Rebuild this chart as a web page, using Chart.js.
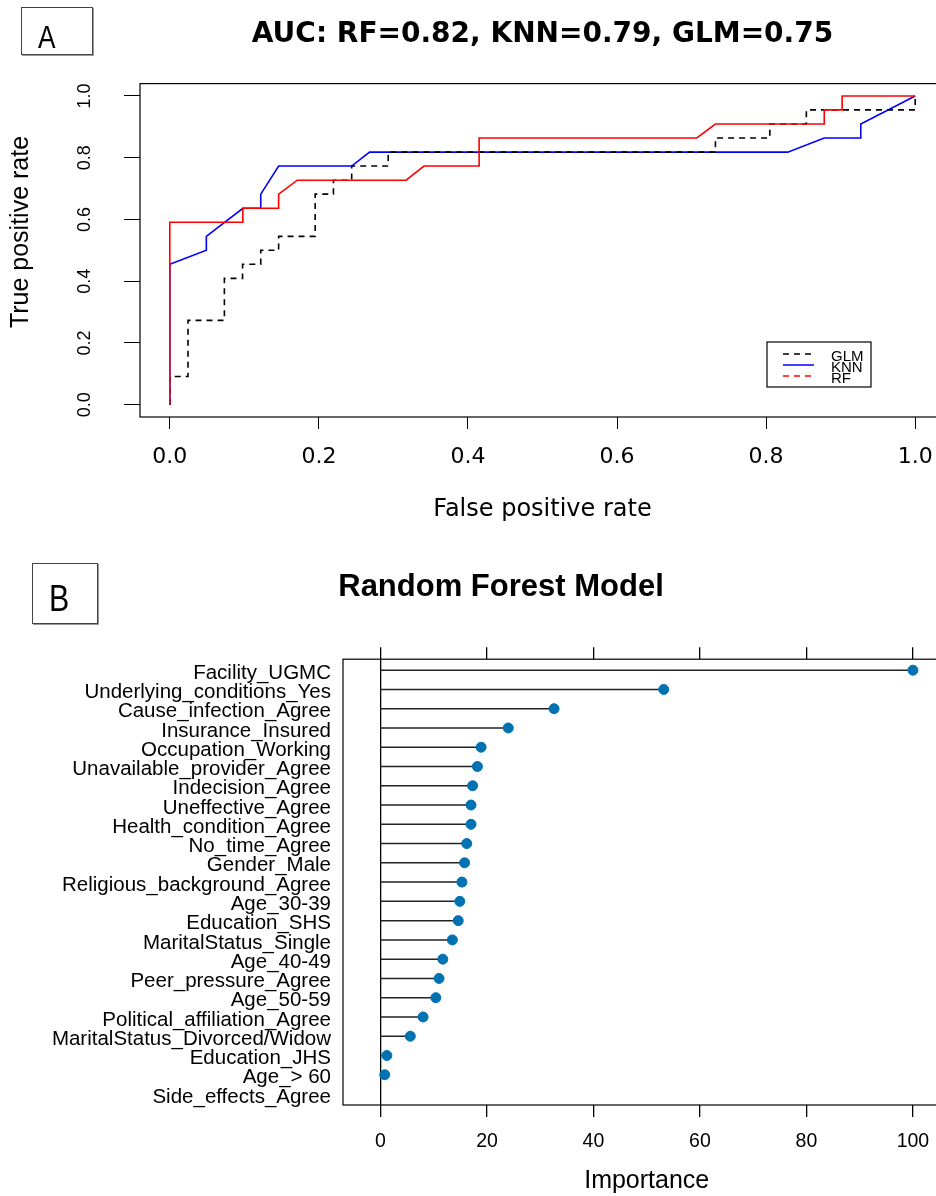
<!DOCTYPE html>
<html>
<head>
<meta charset="utf-8">
<title>ROC curves and random forest importance</title>
<script src="https://cdn.jsdelivr.net/npm/chart.js"></script>
<style>
  html, body { margin: 0; padding: 0; background: #fff; overflow: hidden; }
  #page { position: relative; width: 936px; height: 1196px; overflow: hidden; background: #fff; }
  canvas { position: absolute; left: 0; }
  #rocChart { top: 0; }
  #rfChart { top: 545px; }
  .tag-box { position: absolute; border: 1px solid #444; box-shadow: 1px 1px 0 #999; box-sizing: border-box; }
  .tag { position: absolute; color: #000; font-family: "Liberation Sans Narrow", "Liberation Sans", Arial, sans-serif; transform: scaleX(0.82); transform-origin: left top; }
</style>
</head>
<body>
<div id="page">
  <canvas id="rocChart" width="960" height="545"></canvas>
  <canvas id="rfChart" width="1002" height="651"></canvas>
  <div class="tag-box" style="left:21px; top:7px; width:72px; height:48px;"></div>
  <div class="tag" style="left:38px; top:21px; font-size:32px; line-height:32px;">A</div>
  <div class="tag-box" style="left:32px; top:563px; width:66px; height:61px;"></div>
  <div class="tag" style="left:49px; top:580px; font-size:37px; line-height:37px;">B</div>
</div>

<script>
// Panel A: ROC curves, false positive rate / true positive rate
const glmFpr = [0, 0, 0.0244, 0.0244, 0.0732, 0.0732, 0.0976, 0.0976, 0.122, 0.122, 0.146, 0.146, 0.195, 0.195, 0.2195, 0.2195, 0.244, 0.244, 0.293, 0.293, 0.732, 0.732, 0.805, 0.805, 0.854, 0.854, 1, 1];
const glmTpr = [0, 0.091, 0.091, 0.273, 0.273, 0.409, 0.409, 0.455, 0.455, 0.5, 0.5, 0.545, 0.545, 0.682, 0.682, 0.727, 0.727, 0.773, 0.773, 0.818, 0.818, 0.864, 0.864, 0.909, 0.909, 0.955, 0.955, 1];

const knnFpr = [0, 0, 0.049, 0.049, 0.098, 0.122, 0.122, 0.146, 0.244, 0.268, 0.829, 0.878, 0.927, 0.927, 1];
const knnTpr = [0, 0.455, 0.5, 0.545, 0.636, 0.636, 0.682, 0.773, 0.773, 0.818, 0.818, 0.864, 0.864, 0.909, 1];

const rfFpr = [0, 0, 0.098, 0.098, 0.146, 0.146, 0.171, 0.317, 0.341, 0.415, 0.415, 0.707, 0.732, 0.878, 0.878, 0.902, 0.902, 1];
const rfTpr = [0, 0.591, 0.591, 0.636, 0.636, 0.682, 0.727, 0.727, 0.773, 0.773, 0.864, 0.864, 0.909, 0.909, 0.955, 0.955, 1, 1];

const rocTicks = [0, 0.2, 0.4, 0.6, 0.8, 1.0];
const aucTitle = 'AUC: RF=0.82, KNN=0.79, GLM=0.75';

// Panel B: variable importance, top row first
const features = [
  'Facility_UGMC', 'Underlying_conditions_Yes', 'Cause_infection_Agree', 'Insurance_Insured',
  'Occupation_Working', 'Unavailable_provider_Agree', 'Indecision_Agree', 'Uneffective_Agree',
  'Health_condition_Agree', 'No_time_Agree', 'Gender_Male', 'Religious_background_Agree',
  'Age_30-39', 'Education_SHS', 'MaritalStatus_Single', 'Age_40-49', 'Peer_pressure_Agree',
  'Age_50-59', 'Political_affiliation_Agree', 'MaritalStatus_Divorced/Widow', 'Education_JHS',
  'Age_> 60', 'Side_effects_Agree'
];
const importance = [100, 53.2, 32.6, 24.0, 18.9, 18.2, 17.3, 17.0, 17.0, 16.2, 15.8, 15.3, 14.9, 14.6, 13.5, 11.7, 11.0, 10.4, 8.0, 5.6, 1.2, 0.8, 0];
const importanceTicks = [0, 20, 40, 60, 80, 100];

function toPoints(xs, ys) {
  return xs.map((x, i) => ({ x: x, y: ys[i] }));
}

// R style box round the plot region
const frame = {
  id: 'frame',
  afterDraw(chart) {
    const a = chart.chartArea;
    const ctx = chart.ctx;
    ctx.save();
    ctx.strokeStyle = '#000';
    ctx.lineWidth = 1.2;
    ctx.strokeRect(a.left, a.top, a.right - a.left, a.bottom - a.top);
    ctx.restore();
  }
};

// vertical y tick labels, y title and the boxed legend of panel A
const rocExtras = {
  id: 'rocExtras',
  afterDraw(chart) {
    const ctx = chart.ctx;
    const yScale = chart.scales.y;
    ctx.save();
    ctx.fillStyle = '#000';
    ctx.textAlign = 'center';
    ctx.textBaseline = 'middle';
    ctx.font = '18px "Liberation Sans", Arial, sans-serif';
    rocTicks.forEach(v => {
      ctx.save();
      ctx.translate(85, yScale.getPixelForValue(v));
      ctx.rotate(-Math.PI / 2);
      ctx.fillText(v.toFixed(1), 0, 0);
      ctx.restore();
    });

    ctx.font = '25px "Liberation Sans", Arial, sans-serif';
    ctx.save();
    ctx.translate(21, 232);
    ctx.rotate(-Math.PI / 2);
    ctx.fillText('True positive rate', 0, 0);
    ctx.restore();

    ctx.strokeStyle = '#000';
    ctx.lineWidth = 1.2;
    ctx.strokeRect(767, 342, 104, 45);
    ctx.font = '15px "Liberation Sans", Arial, sans-serif';
    ctx.textAlign = 'left';
    chart.data.datasets.forEach((ds, i) => {
      const ly = 354 + i * 11;
      ctx.beginPath();
      ctx.setLineDash(ds.legendDash);
      ctx.strokeStyle = ds.borderColor;
      ctx.lineWidth = 1.5;
      ctx.moveTo(783, ly);
      ctx.lineTo(814, ly);
      ctx.stroke();
      ctx.setLineDash([]);
      ctx.fillStyle = '#000';
      ctx.fillText(ds.label, 831, ly + 2.5);
    });
    ctx.restore();
  }
};

new Chart(document.getElementById('rocChart'), {
  type: 'line',
  data: {
    datasets: [
      { label: 'GLM', data: toPoints(glmFpr, glmTpr), borderColor: '#000000', borderWidth: 1.6, borderDash: [6, 5], legendDash: [6, 5], order: 1 },
      { label: 'KNN', data: toPoints(knnFpr, knnTpr), borderColor: '#0000ff', borderWidth: 1.6, legendDash: [], order: 2 },
      { label: 'RF', data: toPoints(rfFpr, rfTpr), borderColor: '#ff0000', borderWidth: 1.6, legendDash: [6, 5], order: 0 }
    ]
  },
  options: {
    responsive: false,
    animation: false,
    elements: { point: { radius: 0 }, line: { tension: 0 } },
    layout: { padding: { right: 15 } },
    plugins: {
      legend: { display: false },
      tooltip: { enabled: false },
      title: {
        display: true,
        text: aucTitle,
        fullSize: false,
        color: '#000',
        font: { family: 'DejaVu Sans', size: 28, weight: 'bold', lineHeight: 1.2 },
        padding: { top: 18, bottom: 32 }
      }
    },
    scales: {
      x: {
        type: 'linear',
        min: -0.04,
        max: 1.04,
        afterBuildTicks: axis => { axis.ticks = rocTicks.map(v => ({ value: v })); },
        afterFit: scale => { scale.height = 128; },
        grid: { drawOnChartArea: false, tickLength: 12, tickColor: '#000' },
        border: { display: false },
        ticks: {
          color: '#000', padding: 15, maxRotation: 0, autoSkip: false,
          font: { family: 'DejaVu Sans', size: 22 },
          callback: v => v.toFixed(1)
        },
        title: {
          display: true, text: 'False positive rate', color: '#000',
          font: { family: 'DejaVu Sans', size: 24 },
          padding: { top: 0, bottom: 21 }
        }
      },
      y: {
        type: 'linear',
        min: -0.04,
        max: 1.04,
        afterBuildTicks: axis => { axis.ticks = rocTicks.map(v => ({ value: v })); },
        afterFit: scale => { scale.width = 140; },
        grid: { drawOnChartArea: false, tickLength: 16, tickColor: '#000' },
        border: { display: false },
        ticks: { display: false }
      }
    }
  },
  plugins: [frame, rocExtras]
});

// one row per feature, 23 at the top down to 1
const rowY = features.map((f, i) => features.length - i);
const stems = [];
features.forEach((f, i) => {
  stems.push({ x: 0, y: rowY[i] }, { x: importance[i], y: rowY[i] }, { x: null, y: null });
});

// x title of panel B sits under the middle of the 0..100 range
const importanceTitle = {
  id: 'importanceTitle',
  afterDraw(chart) {
    const ctx = chart.ctx;
    ctx.save();
    ctx.fillStyle = '#000';
    ctx.textAlign = 'center';
    ctx.textBaseline = 'middle';
    ctx.font = '25px "Liberation Sans", Arial, sans-serif';
    ctx.fillText('Importance', chart.scales.x.getPixelForValue(50), 636);
    ctx.restore();
  }
};

new Chart(document.getElementById('rfChart'), {
  type: 'line',
  data: {
    datasets: [
      { label: 'stems', data: stems, borderColor: '#222', borderWidth: 1.5, pointRadius: 0, spanGaps: false, order: 1 },
      {
        label: 'Importance',
        data: features.map((f, i) => ({ x: importance[i], y: rowY[i] })),
        showLine: false,
        pointRadius: ctx => importance[ctx.dataIndex] > 0 ? 5 : 0,
        pointBackgroundColor: '#0072b2',
        pointBorderColor: '#0072b2',
        pointBorderWidth: 1,
        order: 0
      }
    ]
  },
  options: {
    responsive: false,
    animation: false,
    plugins: {
      legend: { display: false },
      tooltip: { enabled: false },
      title: {
        display: true,
        text: 'Random Forest Model',
        color: '#000',
        font: { family: 'Liberation Sans', size: 31, weight: 'bold', lineHeight: 1.2 },
        padding: { top: 24, bottom: 41 }
      }
    },
    scales: {
      x: {
        type: 'linear',
        position: 'bottom',
        min: -7.04,
        max: 115.6,
        afterBuildTicks: axis => { axis.ticks = importanceTicks.map(v => ({ value: v })); },
        afterFit: scale => { scale.height = 91; },
        grid: {
          color: c => (c.tick && c.tick.value === 0) ? '#000' : 'rgba(0,0,0,0)',
          tickColor: '#000',
          tickLength: 12,
          lineWidth: 1.3
        },
        border: { display: false },
        ticks: { color: '#000', padding: 13, maxRotation: 0, autoSkip: false, font: { family: 'Liberation Sans', size: 19.5 } }
      },
      x2: {
        type: 'linear',
        position: 'top',
        min: -7.04,
        max: 115.6,
        afterBuildTicks: axis => { axis.ticks = importanceTicks.map(v => ({ value: v })); },
        grid: { drawOnChartArea: false, tickColor: '#000', tickLength: 12, lineWidth: 1.3 },
        border: { display: false },
        ticks: { display: false }
      },
      y: {
        type: 'linear',
        min: 0.43,
        max: 23.57,
        afterBuildTicks: axis => { axis.ticks = rowY.map(v => ({ value: v })); },
        afterFit: scale => { scale.width = 343; },
        grid: { display: false, drawTicks: false },
        border: { display: false },
        ticks: {
          color: '#000', padding: 12, labelOffset: 3, autoSkip: false,
          font: { family: 'Liberation Sans', size: 20.5 },
          callback: v => features[features.length - v]
        }
      }
    }
  },
  plugins: [frame, importanceTitle]
});
</script>
</body>
</html>
